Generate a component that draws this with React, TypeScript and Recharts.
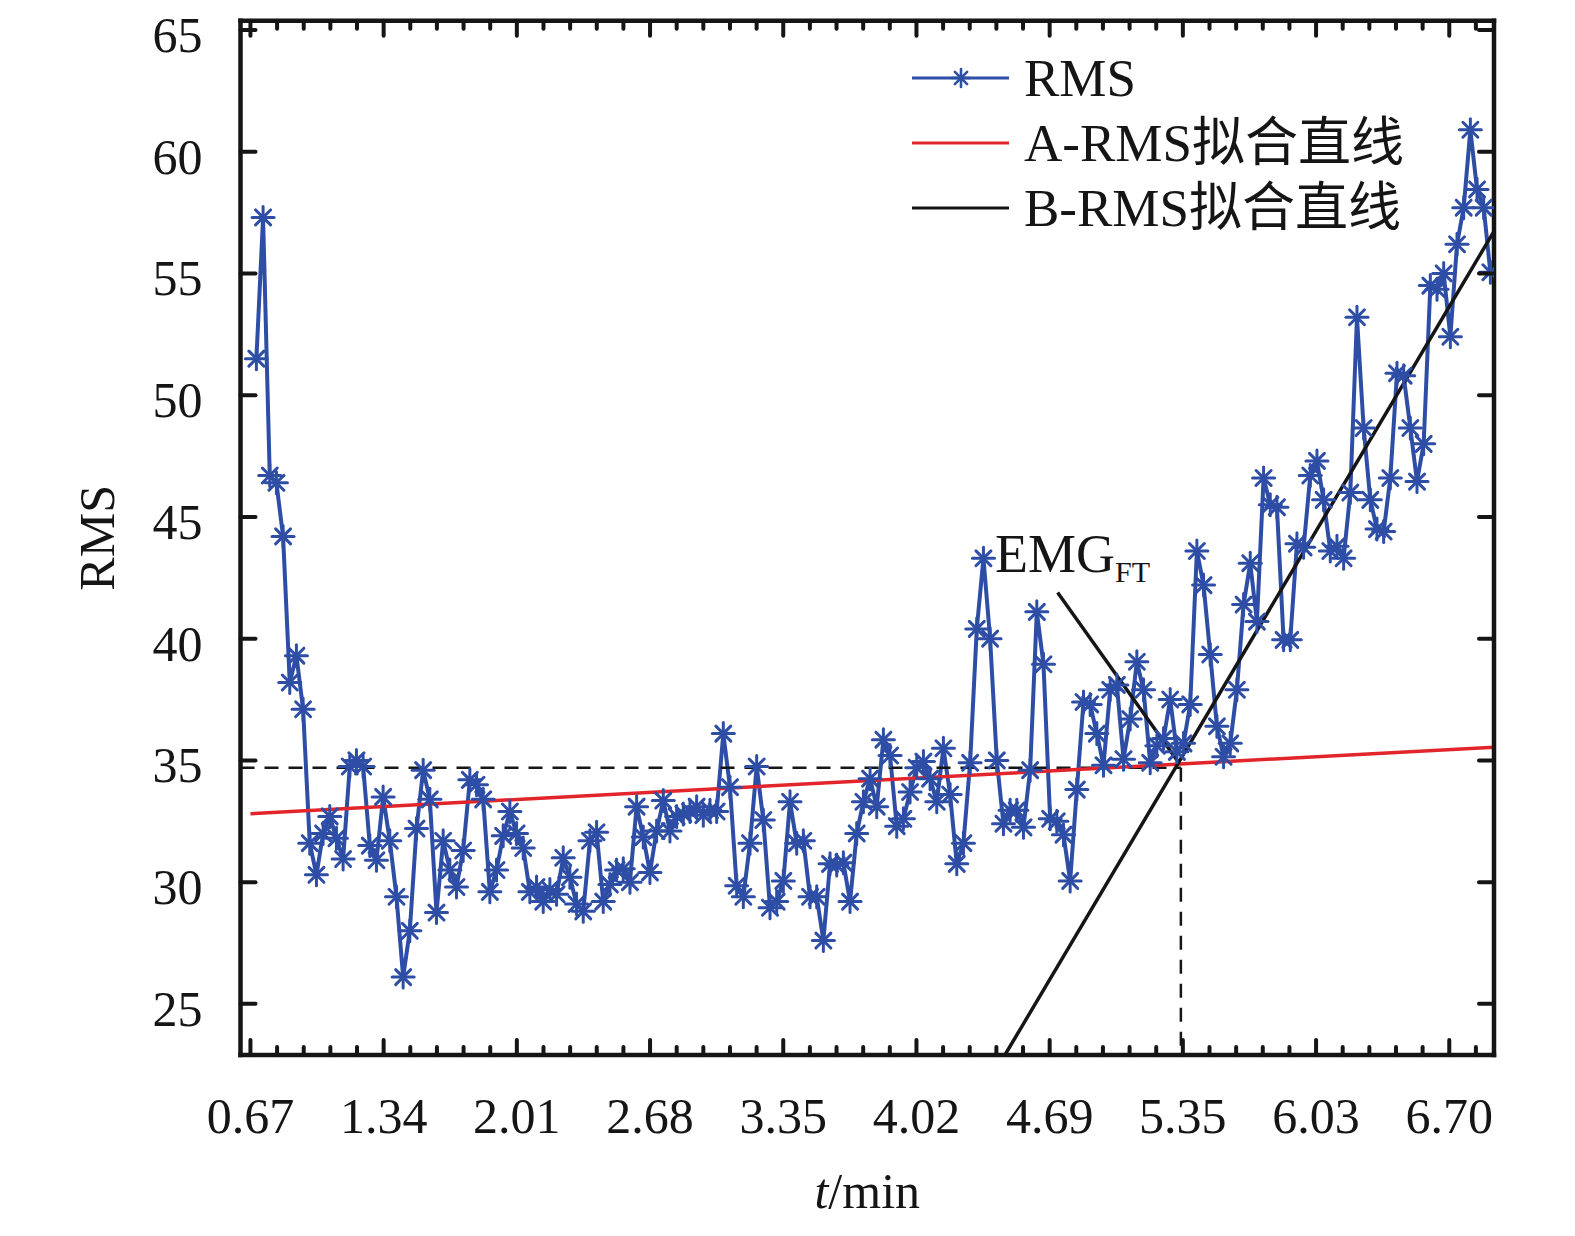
import React from "react";
import {
  ComposedChart,
  Line,
  XAxis,
  YAxis,
  ReferenceLine,
  ReferenceDot,
  Legend,
} from "recharts";

// RMS samples (one every ~2 s)
const T0 = 0.7;
const DT = 0.03355;
const rmsValues = [
  51.5, 57.3, 46.7, 46.4, 44.2, 38.2, 39.3, 37.1, 31.6, 30.3,
  32.0, 32.7, 31.8, 30.95, 34.75, 35.0, 34.75, 31.5, 30.9, 33.5,
  31.7, 29.4, 26.1, 28.0, 32.2, 34.6, 33.4, 28.75, 31.7, 30.5,
  29.8, 31.3, 34.2, 34.0, 33.4, 29.6, 30.5, 31.9, 32.9, 32.0,
  31.4, 29.6, 29.8, 29.2, 29.7, 29.5, 31.0, 30.2, 29.1, 28.8,
  31.7, 32.05, 29.2, 29.9, 30.5, 30.55, 30.0, 33.1, 31.85, 30.4,
  32.1, 33.35, 32.1, 32.7, 32.8, 32.9, 33.1, 32.75, 32.95, 32.9,
  36.1, 33.9, 29.85, 29.4, 31.6, 34.75, 32.55, 28.95, 29.2, 30.05,
  33.3, 31.6, 31.7, 29.4, 29.4, 27.6, 30.75, 30.7, 30.8, 29.2,
  32.0, 33.3, 34.25, 33.1, 35.85, 35.2, 32.3,
  32.6, 33.7, 34.7, 34.95, 34.25, 33.3, 35.5, 33.6, 30.75, 31.6,
  34.9, 40.4, 43.3, 40.0, 35.0, 32.4, 32.95, 32.95, 32.25, 34.6,
  41.1, 38.95, 32.6, 32.5, 31.95, 30.05, 33.8, 37.4, 37.3, 36.1,
  34.8, 37.9, 38.1, 35.05, 36.7, 39.05, 37.9, 34.9, 35.6, 35.9,
  37.5, 35.35, 35.7, 37.3, 43.6, 42.2, 39.35, 36.4, 35.15, 35.7,
  37.9, 41.4, 43.1, 40.7, 46.6, 45.5, 45.4, 39.95, 39.95,
  43.9, 43.75, 46.7, 47.3, 45.7, 43.6, 43.8, 43.3, 46.0, 53.2,
  48.65, 45.7, 44.5, 44.4, 46.6, 50.9, 50.8, 48.65, 46.45, 48.0,
  54.5, 54.35, 55.0, 52.4, 56.2, 57.7, 60.9, 58.45, 57.7, 55.05,
];

// fitted lines (end points) and the threshold point
const fitA = [
  { t: 0.67, v: 32.81 },
  { t: 6.925, v: 35.54 },
];
const fitB = [
  { t: 4.465, v: 22.9 },
  { t: 6.925, v: 56.73 },
];
const emgPoint = { t: 5.35, v: 34.7 };
const pointer = [
  { t: 4.73, v: 41.9 },
  { t: 5.335, v: 34.95 },
];
const emgNote = { t: 4.415, v: 42.74 };

const xTicks = [0.67, 1.34, 2.01, 2.68, 3.35, 4.02, 4.69, 5.36, 6.03, 6.7];
const xTickLabels = ["0.67", "1.34", "2.01", "2.68", "3.35", "4.02", "4.69", "5.35", "6.03", "6.70"];
const yTicks = [25, 30, 35, 40, 45, 50, 55, 60, 65];

const X_DOMAIN = [0.62, 6.925];
const Y_DOMAIN = [22.9, 65.38];

const BLUE = "#2e4ea6";
const RED = "#e2252b";
const INK = "#151515";
const FONT = "'Liberation Serif', 'Noto Sans CJK SC', serif";

const data = rmsValues.map((v, i) => ({ t: T0 + i * DT, rms: v }));

// major + 4 minor ticks per interval
const allXTicks: number[] = [];
xTicks.forEach((v) => {
  allXTicks.push(v);
  for (let k = 1; k <= 4; k++) {
    const m = v + k * 0.134;
    if (m < X_DOMAIN[1]) allXTicks.push(m);
  }
});

function majorIndex(v: number) {
  return xTicks.findIndex((t) => Math.abs(t - v) < 1e-6);
}

function Asterisk({ cx, cy, size = 11, color = BLUE, sw = 3 }: any) {
  const d = size * 0.68;
  return (
    <g stroke={color} strokeWidth={sw} strokeLinecap="round">
      <line x1={cx - size} y1={cy} x2={cx + size} y2={cy} />
      <line x1={cx} y1={cy - size} x2={cx} y2={cy + size} />
      <line x1={cx - d} y1={cy - d} x2={cx + d} y2={cy + d} />
      <line x1={cx - d} y1={cy + d} x2={cx + d} y2={cy - d} />
    </g>
  );
}

const BottomTick = (props: any) => {
  const { x, y, payload } = props;
  const mi = majorIndex(payload.value);
  const len = mi >= 0 ? 15 : 8;
  return (
    <g>
      <line x1={x} y1={y} x2={x} y2={y - len} stroke={INK} strokeWidth={4} strokeLinecap="round" />
      {mi >= 0 && (
        <text x={x} y={y + 78} textAnchor="middle" fontSize={50} fontFamily={FONT} fill={INK}>
          {xTickLabels[mi]}
        </text>
      )}
    </g>
  );
};

const TopTick = (props: any) => {
  const { x, y, payload } = props;
  const len = majorIndex(payload.value) >= 0 ? 15 : 8;
  return <line x1={x} y1={y} x2={x} y2={y + len} stroke={INK} strokeWidth={4} strokeLinecap="round" />;
};

const LeftTick = (props: any) => {
  const { x, y, payload } = props;
  return (
    <g>
      <line x1={x} y1={y} x2={x + 15} y2={y} stroke={INK} strokeWidth={4} strokeLinecap="round" />
      <text x={x - 38} y={y + 22} textAnchor="end" fontSize={50} fontFamily={FONT} fill={INK}>
        {payload.value}
      </text>
    </g>
  );
};

const RightTick = (props: any) => {
  const { x, y } = props;
  return <line x1={x} y1={y} x2={x - 15} y2={y} stroke={INK} strokeWidth={4} strokeLinecap="round" />;
};

const legendRows = [
  { label: "RMS", color: BLUE, marker: true },
  { label: "A-RMS拟合直线", color: RED, marker: false },
  { label: "B-RMS拟合直线", color: INK, marker: false },
];

const LegendBox = () => (
  <svg width={620} height={200}>
    {legendRows.map((r, i) => {
      const y = 38 + i * 65;
      return (
        <g key={r.label}>
          <line x1={8} y1={y} x2={105} y2={y} stroke={r.color} strokeWidth={3} />
          {r.marker && <Asterisk cx={57} cy={y} size={9} sw={2.6} />}
          <text x={120} y={y + 18} fontSize={53} fontFamily={FONT} fill={INK}>
            {r.label}
          </text>
        </g>
      );
    })}
  </svg>
);

const axisLine = { stroke: INK, strokeWidth: 4.5, strokeLinecap: "square" as const };

export default function App() {
  return (
    <div style={{ width: 1560, height: 1220, fontFamily: FONT, background: "#fff" }}>
      <ComposedChart
        width={1560}
        height={1220}
        data={data}
        margin={{ top: 11.7, right: 73, bottom: 63, left: 0 }}
      >
        <XAxis
          dataKey="t"
          type="number"
          domain={X_DOMAIN}
          allowDataOverflow
          ticks={allXTicks}
          interval={0}
          height={110}
          tickSize={0}
          tickMargin={0}
          tickLine={false}
          axisLine={axisLine}
          tick={<BottomTick />}
          label={{
            content: (p: any) => {
              const vb = p.viewBox;
              return (
                <text x={vb.x + vb.width / 2} y={vb.y + 153} textAnchor="middle" fontSize={50} fontFamily={FONT} fill={INK}>
                  <tspan fontStyle="italic">t</tspan>
                  <tspan>/min</tspan>
                </text>
              );
            },
          }}
        />
        <XAxis
          xAxisId="top"
          orientation="top"
          dataKey="t"
          type="number"
          domain={X_DOMAIN}
          allowDataOverflow
          ticks={allXTicks}
          interval={0}
          height={1}
          tickSize={0}
          tickMargin={0}
          tickLine={false}
          axisLine={axisLine}
          tick={<TopTick />}
        />
        <YAxis
          type="number"
          domain={Y_DOMAIN}
          allowDataOverflow
          ticks={yTicks}
          interval={0}
          width={232.5}
          tickSize={0}
          tickMargin={0}
          tickLine={false}
          axisLine={axisLine}
          tick={<LeftTick />}
          label={{
            content: (p: any) => {
              const vb = p.viewBox;
              const cx = vb.x + 89;
              const cy = vb.y + vb.height / 2;
              return (
                <text
                  x={cx}
                  y={cy}
                  transform={`rotate(-90, ${cx}, ${cy})`}
                  textAnchor="middle"
                  dominantBaseline="central"
                  fontSize={50}
                  fontFamily={FONT}
                  fill={INK}
                >
                  RMS
                </text>
              );
            },
          }}
        />
        <YAxis
          yAxisId="right"
          orientation="right"
          type="number"
          domain={Y_DOMAIN}
          allowDataOverflow
          ticks={yTicks}
          interval={0}
          width={1}
          tickSize={0}
          tickMargin={0}
          tickLine={false}
          axisLine={axisLine}
          tick={<RightTick />}
        />

        {/* invisible series so the mirrored frame axes get a domain */}
        <Line
          xAxisId="top"
          yAxisId="right"
          dataKey="rms"
          stroke="none"
          dot={false}
          activeDot={false}
          legendType="none"
          isAnimationActive={false}
        />

        <Line
          dataKey="rms"
          stroke={BLUE}
          strokeWidth={4}
          isAnimationActive={false}
          dot={(p: any) => <Asterisk key={`d${p.index}`} cx={p.cx} cy={p.cy} />}
          activeDot={false}
          legendType="none"
        />

        <ReferenceLine
          segment={[{ x: X_DOMAIN[0], y: emgPoint.v }, { x: emgPoint.t, y: emgPoint.v }]}
          stroke={INK}
          strokeWidth={2.5}
          strokeDasharray="14 10"
          ifOverflow="hidden"
        />
        <ReferenceLine
          segment={[{ x: emgPoint.t, y: emgPoint.v }, { x: emgPoint.t, y: Y_DOMAIN[0] }]}
          stroke={INK}
          strokeWidth={2.5}
          strokeDasharray="14 10"
          ifOverflow="hidden"
        />
        <ReferenceLine
          segment={fitA.map((p) => ({ x: p.t, y: p.v }))}
          stroke={RED}
          strokeWidth={3.5}
          ifOverflow="hidden"
        />
        <ReferenceLine
          segment={fitB.map((p) => ({ x: p.t, y: p.v }))}
          stroke={INK}
          strokeWidth={3.5}
          ifOverflow="hidden"
        />
        <ReferenceLine
          segment={pointer.map((p) => ({ x: p.t, y: p.v }))}
          stroke={INK}
          strokeWidth={3.5}
          ifOverflow="hidden"
        />
        <ReferenceDot
          x={emgNote.t}
          y={emgNote.v}
          r={0}
          fill="none"
          stroke="none"
          ifOverflow="visible"
          label={{
            content: (p: any) => {
              const vb = p.viewBox;
              return (
                <text x={vb.x} y={vb.y} fontSize={54} fontFamily={FONT} fill={INK}>
                  EMG
                  <tspan fontSize={30} dy={10}>
                    FT
                  </tspan>
                </text>
              );
            },
          }}
        />

        <Legend
          layout="vertical"
          align="center"
          verticalAlign="middle"
          content={() => <LegendBox />}
          wrapperStyle={{ left: 896, top: 32, width: 620, height: 200 }}
        />
      </ComposedChart>
    </div>
  );
}
